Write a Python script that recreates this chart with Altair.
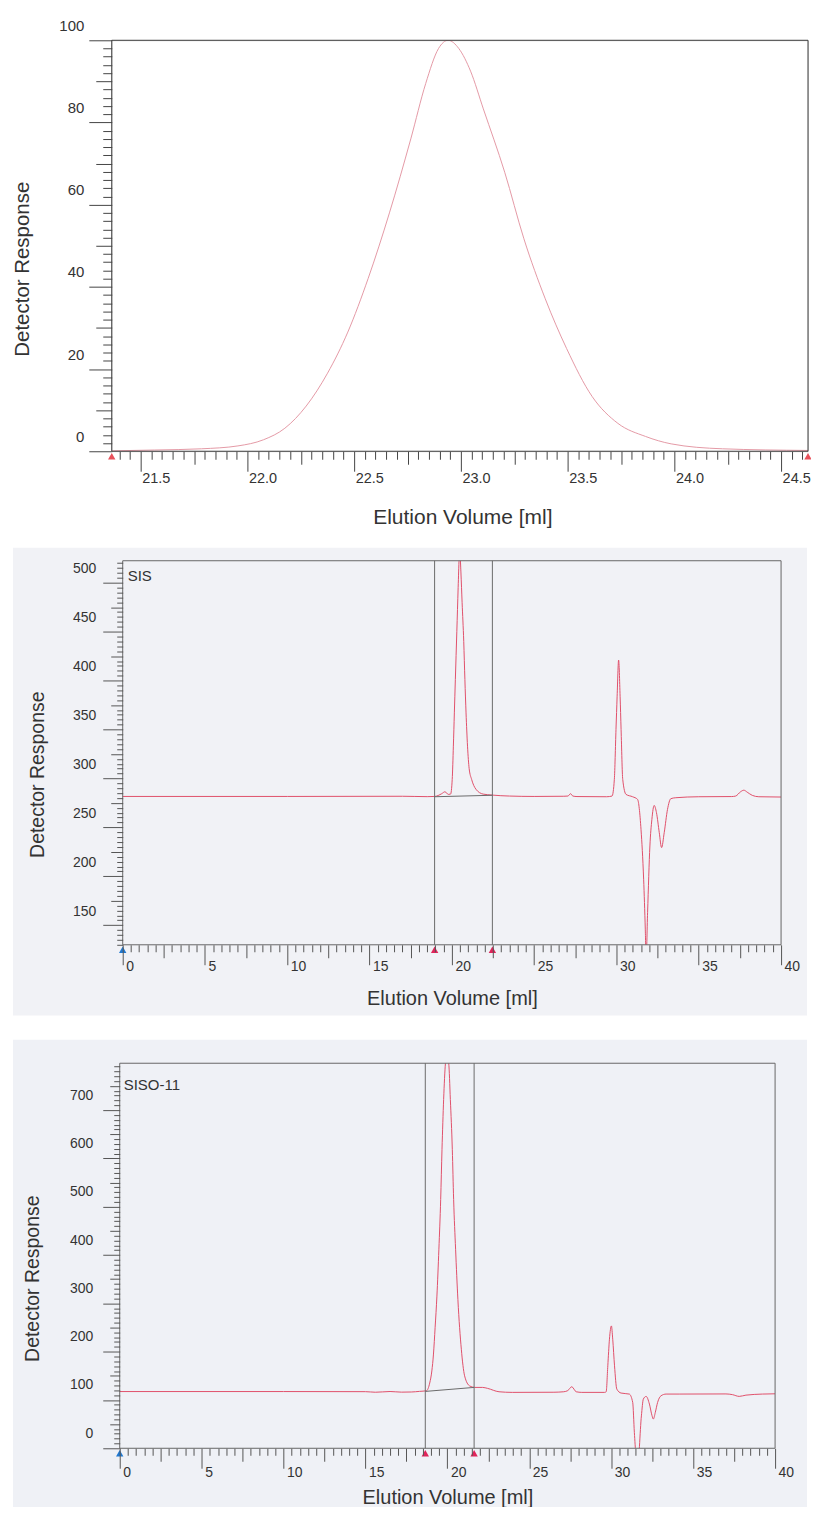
import altair as alt
import pandas as pd

FONT = "Liberation Sans"
TXT = "#333333"

# ---------------- data ----------------
# Panel 1 : normalised peak
p1_vol = [21.364, 21.565, 21.785, 21.955, 22.075, 22.175, 22.275, 22.375, 22.47, 22.565,
          22.665, 22.765, 22.835, 22.895, 22.94, 22.99, 23.045, 23.105, 23.205, 23.295,
          23.395, 23.495, 23.615, 23.735, 23.865, 23.985, 24.225, 24.626]
p1_resp = [0.1, 0.3, 0.6, 1.3, 2.8, 5.6, 11.0, 19.0, 29.0, 42.0,
           58.0, 76.0, 89.5, 98.0, 100.0, 98.0, 92.5, 83.3, 67.9, 51.7,
           37.1, 25.0, 13.3, 6.8, 3.6, 1.8, 0.6, 0.2]
p1_markers = [21.364, 24.626]

# Panel 2 : SIS
p2_vol = [0, 10, 17, 18.5, 18.95, 19.38, 19.58, 19.78, 19.92, 20.02, 20.09, 20.15,
          20.21, 20.30, 20.38, 20.44, 20.47, 20.55, 20.62, 20.72, 20.79, 20.86,
          20.95, 21.05, 21.20, 21.46, 21.90, 22.45, 23.5, 25.0, 26.8, 27.05, 27.21,
          27.35, 27.6, 29.4, 29.73, 29.87, 29.97, 30.04, 30.13, 30.22, 30.28, 30.38,
          30.58, 30.98, 31.28, 31.49, 31.65, 31.75, 31.80, 31.89, 32.03, 32.15,
          32.29, 32.43, 32.60, 32.74, 32.90, 33.10, 33.30, 33.60, 35.0, 37.0, 37.24,
          37.54, 37.74, 37.94, 38.25, 38.65, 40.0]
p2_resp = [281.6, 281.6, 281.8, 281.4, 281.6, 284.4, 286.4, 283.7, 284.0, 299, 333, 367,
           401, 450, 495, 525, 535, 510, 480, 440, 401, 367,
           333, 310, 299, 289, 284, 283, 282, 281.6, 281.8, 282.0, 284.4,
           282.0, 281.5, 281.3, 282.0, 299, 350, 384, 421, 384, 350, 299,
           283.7, 281.3, 278.6, 248, 197, 146, 115, 163, 231, 258,
           272.4, 265, 244.6, 229.3, 244.6, 268.4, 279.3, 280.3, 281.3, 281.5, 282,
           286.4, 288, 286, 282.7, 281.3, 281.0]
p2_cuts = [18.95, 22.46]
p2_base_vol = [18.95, 22.46]
p2_base_resp = [281.3, 282.8]
p2_name = ["SIS"]

# Panel 3 : SISO-11
p3_vol = [0, 10, 15, 15.6, 16.5, 17.2, 17.8, 18.3, 18.72, 18.92, 19.05, 19.15, 19.25,
          19.36, 19.48, 19.59, 19.67, 19.77, 19.88, 19.96, 20.08, 20.18, 20.30, 20.38,
          20.50, 20.64, 20.85, 21.05, 21.36, 21.66, 22.15, 22.45, 23.15, 23.96, 26.5,
          27.1, 27.35, 27.59, 27.86, 28.2, 29.6, 29.69, 29.79, 29.89, 30.01, 30.09,
          30.20, 30.34, 30.60, 31.10, 31.31, 31.41, 31.60, 31.84, 31.96, 32.13, 32.33,
          32.49, 32.57, 32.69, 32.83, 33.04, 33.35, 34.15, 37.0, 37.4, 37.81, 38.22,
          39.23, 40.0]
p3_resp = [117.4, 117.4, 117.2, 116.0, 117.5, 116.2, 116.5, 117.8, 119, 135, 160, 195, 250,
           315, 412, 515, 618, 722, 797, 815, 797, 722, 618, 515,
           412, 308, 205, 150, 129, 126, 126, 124, 117, 115.7, 116,
           117, 119.5, 127.3, 117, 115.7, 115.7, 117, 170.7, 225.8, 253.3, 225.8,
           170.7, 122.5, 114.3, 112.2, 95, 33, -40, 67, 102, 107.4, 91.5,
           67.4, 60.5, 74.4, 95, 108.7, 112.2, 112.2, 112.5, 111, 107.4, 110,
           112.2, 112.8]
p3_cuts = [18.65, 21.63]
p3_base_vol = [18.65, 21.63]
p3_base_resp = [117.7, 126.0]
p3_name = ["SISO-11"]


def steps(a, b, s):
    n = int(round((b - a) / s))
    return [round(a + i * s, 4) for i in range(n + 1)]


def is_mult(m):
    return f"abs(datum.value/{m} - round(datum.value/{m})) < 0.0001"


def axis(title, values, major, mid, sizes, fmt, orient, font_size, title_size,
         title_x, title_y, pad=0, loff=0, offset=0, color="#555555"):
    kw = dict(
        title=title, values=values, orient=orient, offset=offset, zindex=1,
        domain=False,
        tickSize={"condition": [{"test": is_mult(major), "value": sizes[0]},
                                {"test": is_mult(mid), "value": sizes[1]}],
                  "value": sizes[2]},
        labelExpr=f"{is_mult(major)} ? format(datum.value, '{fmt}') : ''",
        labelOverlap=False, labelFlush=False, labelBound=False,
        labelFont=FONT, labelFontSize=font_size, labelColor=TXT,
        labelPadding=pad, labelOffset=loff,
        tickColor=color, tickWidth=1,
        grid=False, titleFont=FONT, titleFontSize=title_size,
        titleFontWeight="normal", titleColor=TXT,
        titleX=title_x, titleY=title_y, titleBaseline="middle", titleAlign="center",
    )
    if orient == "bottom":
        kw.update(labelAlign="left", labelBaseline="middle")
    else:
        kw.update(labelAlign="right", labelBaseline="middle", titleAngle=270)
    return alt.Axis(**kw)


def panel(vol, resp, xdom, ydom, w, h, x0, xax, yax, color, markers, frame,
          cuts=None, base=None, name=None, bg=None, spacer=None):
    df = pd.DataFrame({"vol": vol, "resp": resp})
    X = alt.X("vol:Q", scale=alt.Scale(domain=xdom, nice=False, zero=False), axis=xax)
    Y = alt.Y("resp:Q", scale=alt.Scale(domain=ydom, nice=False, zero=False), axis=yax)
    one = pd.DataFrame({"a": [0]})
    layers = []
    if spacer is not None:
        # invisible block that only reserves layout room below the panel
        layers.append(alt.Chart(one).mark_rect(fillOpacity=0, strokeOpacity=0).encode(
            x=alt.value(0), x2=alt.value(10), y=alt.value(h), y2=alt.value(spacer)))
    if bg is not None:
        layers.append(alt.Chart(one).mark_rect(color=bg["color"]).encode(
            x=alt.value(bg["x"]), x2=alt.value(bg["x2"]),
            y=alt.value(bg["y"]), y2=alt.value(bg["y2"])))
    layers.append(alt.Chart(df).mark_line(color=color, strokeWidth=1,
                                          interpolate="monotone", clip=True).encode(x=X, y=Y))
    if base is not None:
        bdf = pd.DataFrame({"vol": base[0], "resp": base[1]})
        layers.append(alt.Chart(bdf).mark_line(color="#6a6a6a", strokeWidth=1).encode(x=X, y=Y))
    if cuts is not None:
        cdf = pd.DataFrame({"vol": cuts})
        layers.append(alt.Chart(cdf).mark_rule(color="#6a6a6a", strokeWidth=1).encode(x=X))
    layers.append(alt.Chart(one).mark_rect(fillOpacity=0, stroke=frame, strokeWidth=1).encode(
        x=alt.value(x0), x2=alt.value(w), y=alt.value(0), y2=alt.value(h)))
    mdf = pd.DataFrame({"vol": [m[0] for m in markers], "c": [m[1] for m in markers]})
    layers.append(alt.Chart(mdf).mark_point(shape="triangle-up", filled=True,
                                            size=55, opacity=1).encode(
        x=X, y=alt.value(h + 5), color=alt.Color("c:N", scale=None)))
    if name is not None:
        ndf = pd.DataFrame({"name": name[0]})
        layers.append(alt.Chart(ndf).mark_text(
            align="left", baseline="middle", font=FONT, fontSize=15,
            color=TXT).encode(x=alt.value(name[1]), y=alt.value(name[2]), text="name:N"))
    return alt.layer(*layers).properties(width=w, height=h)


# ---------- panel 1 ----------
p1 = panel(
    p1_vol, p1_resp, [21.364, 24.626], [0, 100], 698, 412, 0,
    axis("Elution Volume [ml]", steps(21.4, 24.6, 0.05), 0.5, 0.25, (20, 13, 8),
         ".1f", "bottom", 14.5, 21, 351.5, 66.5, pad=7, loff=1, color="#444444"),
    axis("Detector Response", steps(0, 100, 2), 20, 10, (23, 16, 9), "d", "left",
         15, 20.5, -89, 229, pad=5, loff=-15, color="#444444"),
    "#e49aa6", [(m, "#e8505a") for m in p1_markers], "#3a3a3a")

# ---------- panel 2 ----------
p2 = panel(
    p2_vol, p2_resp, [-0.666, 40], [130, 522.5], 671, 385, 11,
    axis("Elution Volume [ml]", steps(0, 40, 0.5), 5, 2.5, (20, 13, 7), "d",
         "bottom", 14, 20, 341, 54, pad=2, loff=3),
    axis("Detector Response", steps(130, 520, 5), 50, 25, (20, 12, 6), "d", "left",
         14, 19.5, -85, 214, pad=7, loff=-14, offset=-11),
    "#e0506a",
    [(0, "#1f78d1"), (p2_cuts[0], "#e0245a"), (p2_cuts[1], "#e0245a")], "#666666",
    cuts=p2_cuts, base=(p2_base_vol, p2_base_resp), name=(p2_name, 16, 15),
    bg=dict(color="#f1f2f6", x=-99, x2=697, y=-13, y2=456), spacer=466)

# ---------- panel 3 ----------
p3 = panel(
    p3_vol, p3_resp, [-0.487, 40], [0, 797], 665, 386, 8,
    axis("Elution Volume [ml]", steps(0, 40, 0.5), 5, 2.5, (20, 13, 7), "d",
         "bottom", 14, 20, 336.5, 49.5, pad=4, loff=3),
    axis("Detector Response", steps(0, 790, 10), 100, 50, (17, 10, 6), "d", "left",
         14, 19.5, -87, 215.5, pad=10, loff=-15, offset=-8),
    "#e0506a",
    [(0, "#1f78d1"), (p3_cuts[0], "#e0245a"), (p3_cuts[1], "#e0245a")], "#666666",
    cuts=p3_cuts, base=(p3_base_vol, p3_base_resp), name=(p3_name, 12, 21.5),
    bg=dict(color="#eff1f6", x=-99, x2=697, y=-23.5, y2=446))

chart = alt.concat(p1, p2, p3, columns=1, spacing=12.75).properties(
    align="none", padding={"left": 4, "top": 7.5, "right": -2, "bottom": -3.5}
).configure_view(stroke=None).configure(background="white")

chart.save("out.html", embed_options={"renderer": "svg", "actions": False})
